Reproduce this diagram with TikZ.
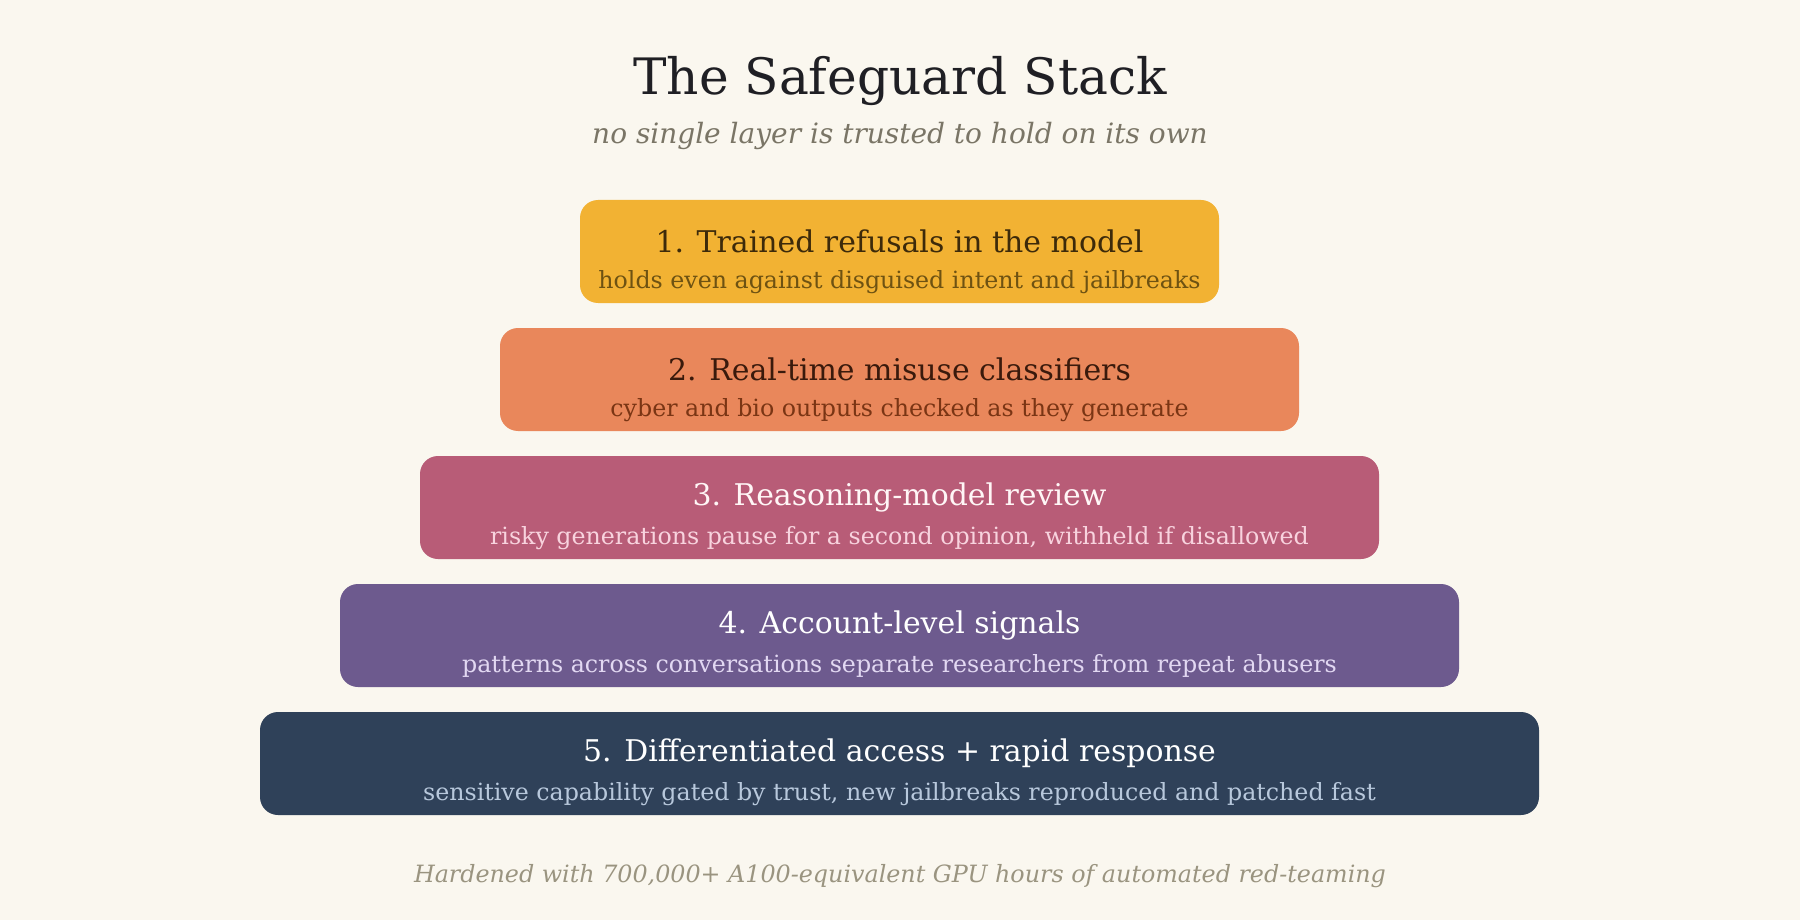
\documentclass[tikz,border=0pt]{standalone}
\usepackage{fontspec}
\setmainfont{DejaVu Serif}
\definecolor{bg}{HTML}{FAF7EF}
\definecolor{ttl}{HTML}{1F1F24}
\definecolor{sub}{HTML}{7A7566}
\definecolor{foot}{HTML}{9A9480}
\definecolor{cA}{HTML}{F2B233}\definecolor{tA}{HTML}{3D2A0A}\definecolor{sA}{HTML}{6E5212}
\definecolor{cB}{HTML}{E9875B}\definecolor{tB}{HTML}{3A1A0C}\definecolor{sB}{HTML}{7A3514}
\definecolor{cC}{HTML}{B85C77}\definecolor{tC}{HTML}{FFF6F6}\definecolor{sC}{HTML}{F8D3DE}
\definecolor{cD}{HTML}{6D5A8E}\definecolor{tD}{HTML}{FFFFFF}\definecolor{sD}{HTML}{E2D8F2}
\definecolor{cE}{HTML}{2F4159}\definecolor{tE}{HTML}{FFFFFF}\definecolor{sE}{HTML}{B8C8DC}
\tikzset{
  layertitle/.style={font=\fontsize{29.9}{34}\selectfont, anchor=center, inner sep=0pt},
  layersub/.style={font=\fontsize{23.7}{28}\selectfont, anchor=center, inner sep=0pt},
}
\begin{document}
\begin{tikzpicture}[x=1pt,y=-1pt]
\fill[bg] (0,0) rectangle (1800,920);
\useasboundingbox (0,0) rectangle (1800,920);
\node[text=ttl, font=\fontsize{50.2}{58}\selectfont, inner sep=0pt] (title) at (900,81) {The Safeguard Stack};
\node[text=sub, font=\fontsize{28}{33}\selectfont\itshape, inner sep=0pt] (subtitle) at (900,136) {no single layer is trusted to hold on its own};
% layers
\foreach \n/\xl/\xr/\yt/\c/\tc/\sc/\t/\s in {
  1/580/1219/200/cA/tA/sA/{1. Trained refusals in the model}/{holds even against disguised intent and jailbreaks},
  2/500/1299/328/cB/tB/sB/{2. Real-time misuse classifiers}/{cyber and bio outputs checked as they generate},
  3/420/1379/456/cC/tC/sC/{3. Reasoning-model review}/{risky generations pause for a second opinion, withheld if disallowed},
  4/340/1459/584/cD/tD/sD/{4. Account-level signals}/{patterns across conversations separate researchers from repeat abusers},
  5/260/1539/712/cE/tE/sE/{5. Differentiated access + rapid response}/{sensitive capability gated by trust, new jailbreaks reproduced and patched fast}}
{
  \fill[\c, rounded corners=18pt] (\xl,\yt) rectangle (\xr,\yt+103);
  \node[layertitle, text=\tc] (t\n) at ({(\xl+\xr)/2},\yt+41) {\t};
  \node[layersub, text=\sc] (s\n) at ({(\xl+\xr)/2},\yt+82) {\s};
}
\node[text=foot, font=\fontsize{23.8}{28}\selectfont\itshape, inner sep=0pt] (footer) at (900,876) {Hardened with 700,000+ A100-equivalent GPU hours of automated red-teaming};
\end{tikzpicture}
\end{document}
